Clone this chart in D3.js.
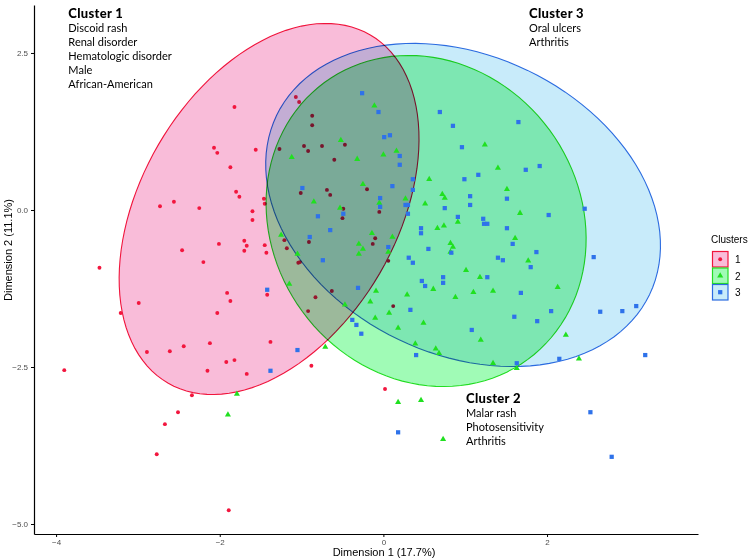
<!DOCTYPE html>
<html><head><meta charset="utf-8">
<script src="https://cdn.jsdelivr.net/npm/d3@7"></script>
<style>
html,body{margin:0;padding:0;background:#fff;}
svg{display:block;}
.ann{font-family:Lato,"Open Sans",sans-serif;font-size:11px;fill:#000;}
.annb{font-family:Lato,"Open Sans",sans-serif;font-size:13px;font-weight:900;fill:#000;letter-spacing:0.3px;}
.axt{font-family:"Liberation Sans",Arial,sans-serif;font-size:11px;fill:#000;}
.tick text{font-family:"Liberation Sans",Arial,sans-serif;font-size:8px;fill:#4d4d4d;}
</style></head>
<body>
<script>
// ---- data (Dim1, Dim2) ----
const cluster1 = [[-1.82,1.64],[-2.07,0.99],[-2.03,0.91],[-1.87,0.68],[-1.80,0.29],[-1.76,0.21],[-2.73,0.06],[-2.56,0.13],[-2.25,0.03],[-2.46,-0.64],[-2.01,-0.54],[-1.70,-0.49],[-1.67,-0.57],[-1.70,-0.65],[-2.20,-0.83],[-3.47,-0.92],[-1.91,-1.32],[-1.87,-1.45],[-2.99,-1.48],[-3.21,-1.64],[-2.03,-1.64],[-2.12,-2.12],[-2.44,-2.17],[-2.89,-2.26],[-2.61,-2.25],[-1.92,-2.42],[-1.82,-2.39],[-2.15,-2.56],[-1.67,-2.61],[-3.90,-2.55],[-2.34,-2.95],[-2.51,-3.22],[-2.67,-3.41],[-2.77,-3.89],[-1.89,-4.78],[0.02,-2.85],[-1.07,1.80],[-1.03,1.72],[-0.87,1.50],[-0.87,1.35],[-1.56,0.96],[-1.27,0.97],[-0.97,1.02],[-0.92,0.94],[-0.75,1.02],[-0.47,1.04],[-0.60,0.80],[-0.20,0.33],[-1.01,0.27],[-0.69,0.32],[-0.65,0.24],[-1.46,0.18],[-1.45,0.10],[-0.49,0.02],[-0.50,-0.13],[-0.05,-0.03],[-1.60,-0.02],[-1.60,-0.16],[-1.21,-0.48],[-1.18,-0.61],[-0.91,-0.51],[-0.10,-0.45],[-0.13,-0.54],[0.06,-0.81],[-1.45,-0.56],[-1.43,-0.68],[-1.04,-0.84],[-1.02,-0.83],[-1.42,-1.35],[-0.63,-1.29],[-0.83,-1.39],[-0.92,-1.61],[0.12,-1.53],[-1.38,-2.10],[-0.88,-2.48]];
const cluster2 = [[-1.79,-2.93],[-1.90,-3.26],[0.18,-3.06],[0.46,-3.03],[0.73,-3.65],[-0.11,1.66],[-0.52,1.11],[-1.12,0.84],[-0.32,0.81],[0.00,0.88],[0.16,0.94],[1.24,1.04],[1.40,0.67],[0.56,0.49],[-0.25,0.41],[-0.85,0.13],[-0.53,0.03],[-0.05,0.11],[0.27,0.18],[0.72,0.25],[0.75,0.19],[0.51,0.10],[0.91,-0.19],[0.74,-0.25],[0.66,-0.29],[-1.25,-0.40],[-0.14,-0.37],[0.11,-0.43],[0.06,-0.67],[-0.30,-0.54],[-0.25,-0.62],[-0.30,-0.70],[-1.05,-0.70],[0.82,-0.53],[0.85,-0.59],[0.82,-0.67],[1.01,-0.96],[1.18,-1.07],[1.51,0.33],[1.67,-0.05],[1.61,-0.45],[1.77,-0.81],[-1.15,-1.18],[0.61,-1.26],[0.29,-1.35],[-0.09,-1.29],[-0.16,-1.46],[0.88,-1.39],[1.10,-1.31],[-0.47,-1.51],[0.07,-1.64],[-0.10,-1.72],[0.18,-1.88],[0.49,-1.80],[-0.71,-2.18],[0.39,-2.13],[0.64,-2.21],[0.68,-2.28],[1.34,-1.29],[2.13,-1.23],[1.19,-2.07],[2.23,-1.99],[1.34,-2.44],[1.63,-2.52],[2.39,-2.37]];
const cluster3 = [[0.18,-3.54],[2.53,-3.22],[2.79,-3.93],[-0.26,1.86],[-0.06,1.56],[0.69,1.56],[0.85,1.34],[0.01,1.16],[0.08,1.19],[0.20,0.86],[0.20,0.72],[0.96,1.00],[1.16,0.56],[0.99,0.49],[0.36,0.49],[0.36,0.32],[0.11,0.38],[-0.99,0.35],[-0.04,0.19],[-0.04,0.05],[-0.49,-0.06],[0.27,0.08],[0.30,0.08],[0.30,-0.06],[1.06,0.22],[1.06,0.08],[0.75,0.03],[0.91,-0.11],[1.22,-0.14],[1.23,-0.22],[1.27,-0.22],[0.46,-0.29],[0.46,-0.37],[-0.80,-0.10],[-0.65,-0.32],[-0.90,-0.43],[0.06,-0.59],[-0.74,-0.80],[0.55,-0.62],[0.31,-0.76],[0.36,-0.84],[0.83,-0.68],[1.40,-0.76],[0.73,-1.07],[1.27,-1.07],[1.65,1.40],[1.74,0.64],[1.91,0.70],[1.51,0.18],[2.02,-0.08],[2.46,0.02],[1.51,-0.29],[1.58,-0.54],[1.87,-0.67],[2.57,-0.75],[1.46,-0.80],[1.80,-0.91],[0.73,-1.16],[0.47,-1.13],[0.51,-1.21],[-1.42,-1.27],[-0.31,-1.24],[0.33,-1.59],[-0.38,-1.75],[-0.33,-1.83],[-0.27,-1.97],[1.08,-1.91],[-1.05,-2.23],[-1.38,-2.56],[0.40,-2.31],[1.68,-1.32],[2.05,-1.61],[1.60,-1.70],[1.88,-1.77],[2.65,-1.62],[2.92,-1.61],[3.09,-1.53],[3.20,-2.31],[1.63,-2.44],[2.15,-2.37]];
// ellipse: centre and two conjugate semi-diameters (data units)
const ellipse1 = {cx:-1.397, cy:0.016, ux:1.237, uy:2.771, vx:-1.352, vy:1.025};
const ellipse2 = {cx:0.522, cy:-0.175, ux:1.243, uy:-2.204, vx:1.510, vy:1.446};
const ellipse3 = {cx:0.974, cy:0.080, ux:2.280, uy:-1.424, vx:0.788, vy:2.143};
const xTicks = [-4,-2,0,2];
const yTicks = [-5,-2.5,0,2.5];
const clusterNames = ["1","2","3"];
const xTitle = "Dimension 1 (17.7%)";
const yTitle = "Dimension 2 (11.1%)";
const notes = [
  {title:"Cluster 1", lines:["Discoid rash","Renal disorder","Hematologic disorder","Male","African-American"], at:[-3.85,3.05]},
  {title:"Cluster 3", lines:["Oral ulcers","Arthritis"], at:[1.78,3.05]},
  {title:"Cluster 2", lines:["Malar rash","Photosensitivity","Arthritis"], at:[1.01,-3.07]}
];

const W=750,H=559;
const pointCol=["#f2163e","#20e020","#2e72ea"];
const fillCol=["#f9bcd9","#a0fbb6","#c8ebfa"];
const strokeCol=["#f0143c","#22dd22","#2b6be0"];
const symTypes=[d3.symbolCircle,d3.symbolTriangle,d3.symbolSquare];
const symSizes=[12,16,18];

const svg=d3.select("body").append("svg").attr("width",W).attr("height",H);
svg.append("rect").attr("width",W).attr("height",H).attr("fill","#fff");

const x=d3.scaleLinear().domain([-4.27,3.845]).range([34,698]);
const y=d3.scaleLinear().domain([-5.159,3.264]).range([534,5]);

const ellPts=e=>d3.range(0,361,3).map(a=>{const t=a*Math.PI/180;return [e.cx+e.ux*Math.cos(t)+e.vx*Math.sin(t), e.cy+e.uy*Math.cos(t)+e.vy*Math.sin(t)];});
const line=d3.line().x(d=>x(d[0])).y(d=>y(d[1])).curve(d3.curveLinearClosed);
const ells=[ellipse1,ellipse2,ellipse3];
const data=[cluster1,cluster2,cluster3];

function drawEll(i){
  svg.append("path").attr("d",line(ellPts(ells[i]))).attr("fill",fillCol[i])
    .attr("stroke",strokeCol[i]).attr("stroke-width",1.1).style("mix-blend-mode","multiply");
}
function drawPts(i){
  svg.append("g").selectAll("path").data(data[i]).join("path")
    .attr("transform",d=>`translate(${x(d[0])},${y(d[1])})`)
    .attr("d",d3.symbol(symTypes[i],symSizes[i])).attr("fill",pointCol[i]);
}
drawEll(0); drawPts(0); drawEll(1); drawEll(2); drawPts(1); drawPts(2);

// axes
const xa=svg.append("g").attr("transform","translate(0,534)").call(d3.axisBottom(x).tickValues(xTicks).tickSize(3).tickSizeOuter(0).tickFormat(d3.format("d")));
const ya=svg.append("g").attr("transform","translate(34,0)").call(d3.axisLeft(y).tickValues(yTicks).tickSize(3).tickSizeOuter(0).tickFormat(d3.format(".1f")));
[xa,ya].forEach(g=>{g.select(".domain").attr("stroke","#000").attr("stroke-width",1.2);g.selectAll(".tick line").attr("stroke","#000");});
xa.selectAll(".tick text").attr("y",5);
svg.append("text").attr("class","axt").attr("x",384).attr("y",556).attr("text-anchor","middle").text(xTitle);
svg.append("text").attr("class","axt").attr("transform","translate(12,250) rotate(-90)").attr("text-anchor","middle").text(yTitle);

// annotations
notes.forEach(n=>{
  const t=svg.append("text").attr("x",x(n.at[0])).attr("y",y(n.at[1]));
  t.append("tspan").attr("class","annb").text(n.title);
  n.lines.forEach(l=>t.append("tspan").attr("class","ann").attr("x",x(n.at[0])).attr("dy",14).text(l));
});

// legend
const lg=svg.append("g").attr("transform","translate(711,243)");
lg.append("text").attr("class","axt").attr("x",0).attr("y",0).style("font-size","10px").text("Clusters");
clusterNames.forEach((c,i)=>{
  const g=lg.append("g").attr("transform",`translate(1,${8+i*16.5})`);
  g.append("rect").attr("x",0.5).attr("y",0.5).attr("width",15.5).attr("height",15.5).attr("fill",fillCol[i]).attr("stroke",strokeCol[i]).attr("stroke-width",1.2);
  g.append("path").attr("transform","translate(8.2,8.2)").attr("d",d3.symbol(symTypes[i],symSizes[i])).attr("fill",pointCol[i]);
  g.append("text").attr("class","axt").attr("x",23).attr("y",12).style("font-size","10px").text(c);
});
</script>
</body></html>
